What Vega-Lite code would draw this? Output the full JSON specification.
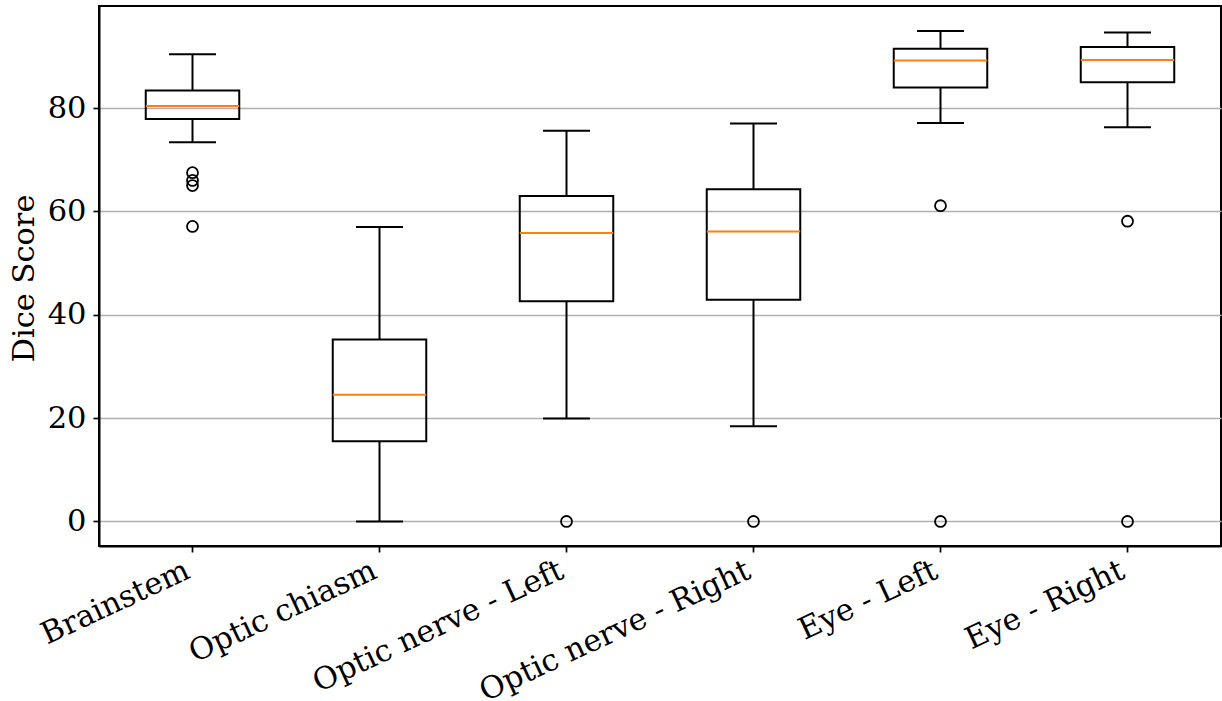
{
  "$schema": "https://vega.github.io/schema/vega-lite/v6.json",
  "width": 1122,
  "height": 540,
  "autosize": "none",
  "padding": {"left": 99, "top": 6, "right": 1, "bottom": 155},
  "background": "white",
  "config": {
    "font": "DejaVu Serif",
    "view": {"stroke": "black", "strokeWidth": 2}
  },
  "datasets": {
    "stats": [
      {"organ": "Brainstem", "lower": 73.4, "q1": 77.9, "median": 80.4, "q3": 83.4, "upper": 90.4},
      {"organ": "Optic chiasm", "lower": 0.0, "q1": 15.5, "median": 24.5, "q3": 35.2, "upper": 57.0},
      {"organ": "Optic nerve - Left", "lower": 19.9, "q1": 42.6, "median": 55.8, "q3": 63.0, "upper": 75.6},
      {"organ": "Optic nerve - Right", "lower": 18.4, "q1": 42.9, "median": 56.1, "q3": 64.3, "upper": 77.0},
      {"organ": "Eye - Left", "lower": 77.1, "q1": 84.0, "median": 89.2, "q3": 91.5, "upper": 94.9},
      {"organ": "Eye - Right", "lower": 76.3, "q1": 85.0, "median": 89.3, "q3": 91.8, "upper": 94.6}
    ],
    "outliers": [
      {"organ": "Brainstem", "value": 67.5},
      {"organ": "Brainstem", "value": 66.0},
      {"organ": "Brainstem", "value": 65.0},
      {"organ": "Brainstem", "value": 57.1},
      {"organ": "Optic nerve - Left", "value": 0.0},
      {"organ": "Optic nerve - Right", "value": 0.0},
      {"organ": "Eye - Left", "value": 61.1},
      {"organ": "Eye - Left", "value": 0.0},
      {"organ": "Eye - Right", "value": 58.1},
      {"organ": "Eye - Right", "value": 0.0}
    ]
  },
  "encoding": {
    "x": {
      "field": "organ",
      "type": "nominal",
      "sort": ["Brainstem", "Optic chiasm", "Optic nerve - Left", "Optic nerve - Right", "Eye - Left", "Eye - Right"],
      "scale": {"type": "band", "paddingInner": 0, "paddingOuter": 0},
      "axis": {
        "title": null,
        "labelFont": "DejaVu Serif",
        "labelFontSize": 30.5,
        "labelColor": "black",
        "labelLimit": 0,
        "labelAngle": -25,
        "labelAlign": "right",
        "labelBaseline": "top",
        "labelPadding": 3,
        "labelOffset": -11,
        "grid": false,
        "domainColor": "black",
        "domainWidth": 2,
        "tickColor": "black",
        "tickWidth": 1.7,
        "tickSize": 6
      }
    }
  },
  "layer": [
    {
      "data": {"name": "stats"},
      "mark": {"type": "rule", "color": "black", "strokeWidth": 2},
      "encoding": {
        "y": {
          "field": "lower",
          "type": "quantitative",
          "scale": {"domain": [-4.75, 99.75], "nice": false, "zero": false},
          "axis": {
            "title": "Dice Score",
            "values": [0, 20, 40, 60, 80],
            "grid": true,
            "gridColor": "#b0b0b0",
            "gridWidth": 1.4,
            "labelFont": "DejaVu Serif",
            "labelFontSize": 30.5,
            "labelColor": "black",
            "labelPadding": 7,
            "titleFont": "DejaVu Serif",
            "titleFontSize": 30.5,
            "titleFontWeight": "normal",
            "titleColor": "black",
            "titleX": -65.5,
            "titleY": 272,
            "titleAngle": -90,
            "titleAlign": "center",
            "titleBaseline": "alphabetic",
            "domainColor": "black",
            "domainWidth": 2,
            "tickColor": "black",
            "tickWidth": 1.7,
            "tickSize": 6
          }
        },
        "y2": {"field": "q1"}
      }
    },
    {
      "data": {"name": "stats"},
      "mark": {"type": "rule", "color": "black", "strokeWidth": 2},
      "encoding": {
        "y": {"field": "q3", "type": "quantitative"},
        "y2": {"field": "upper"}
      }
    },
    {
      "data": {"name": "stats"},
      "mark": {"type": "bar", "fill": "white", "fillOpacity": 0, "stroke": "black", "strokeWidth": 2, "width": {"band": 0.5}},
      "encoding": {
        "y": {"field": "q1", "type": "quantitative"},
        "y2": {"field": "q3"}
      }
    },
    {
      "data": {"name": "stats"},
      "mark": {"type": "tick", "color": "black", "opacity": 1, "size": 47, "thickness": 2},
      "encoding": {"y": {"field": "lower", "type": "quantitative"}}
    },
    {
      "data": {"name": "stats"},
      "mark": {"type": "tick", "color": "black", "opacity": 1, "size": 47, "thickness": 2},
      "encoding": {"y": {"field": "upper", "type": "quantitative"}}
    },
    {
      "data": {"name": "stats"},
      "mark": {"type": "tick", "color": "#ff7f0e", "opacity": 1, "size": 93.5, "thickness": 2},
      "encoding": {"y": {"field": "median", "type": "quantitative"}}
    },
    {
      "data": {"name": "outliers"},
      "mark": {"type": "point", "shape": "circle", "filled": false, "color": "black", "strokeWidth": 1.8, "size": 120, "opacity": 1},
      "encoding": {"y": {"field": "value", "type": "quantitative"}}
    }
  ]
}
